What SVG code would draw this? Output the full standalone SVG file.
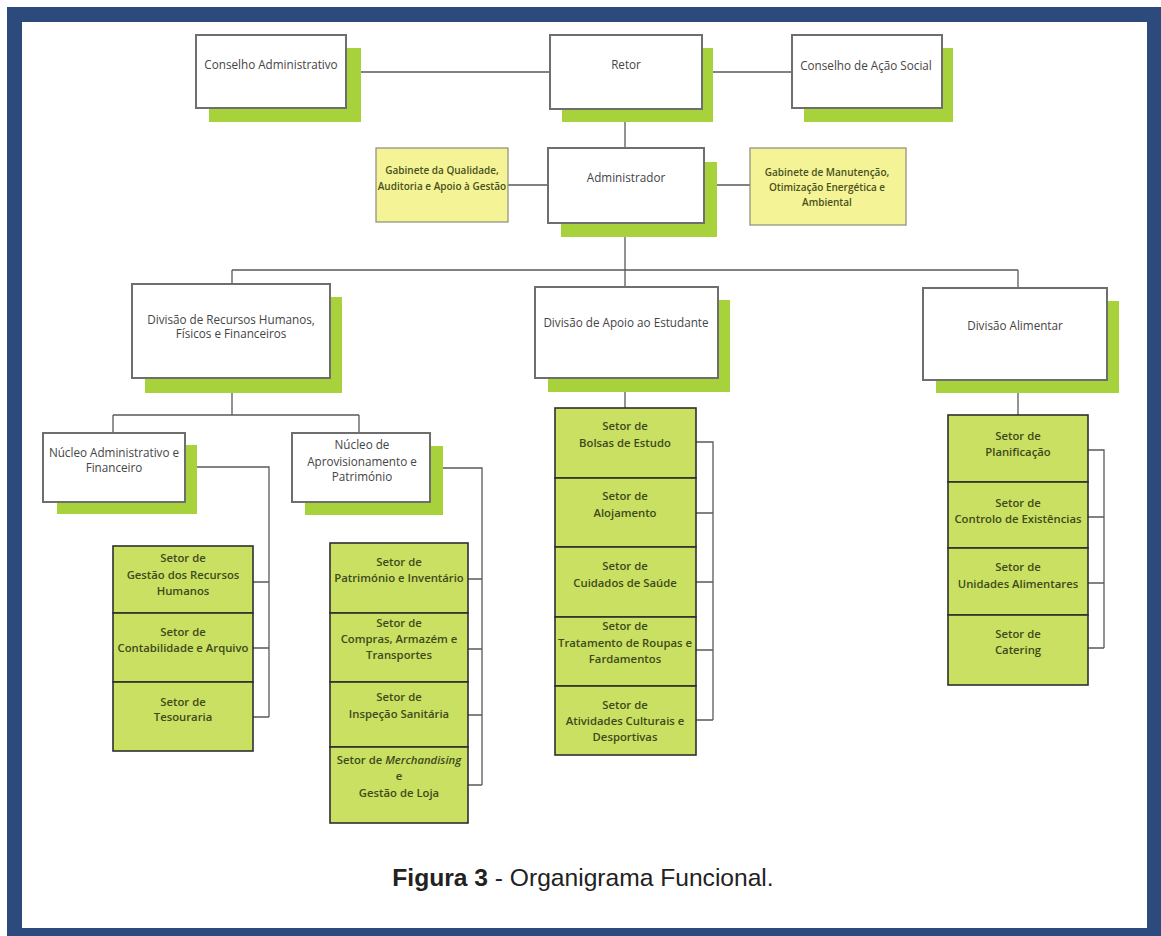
<svg xmlns="http://www.w3.org/2000/svg" width="1161" height="936" viewBox="0 0 1161 936">
<style>
.frame{fill:#2c4a7c}
.paper{fill:#ffffff}
.sh{fill:#a8d23c}
.bx{fill:#ffffff;stroke:#6e6e6e;stroke-width:2}
.yl{fill:#f4f496;stroke:#8a8a7a;stroke-width:1.2}
.st{fill:#c9e062;stroke:#2f2f2f;stroke-width:1.6}
.ln{fill:none;stroke:#5a5a5a;stroke-width:1.3}
text{font-family:"Open Sans","Noto Sans","DejaVu Sans",sans-serif;font-size:11.3px;text-anchor:middle}
.tw{fill:#454545;font-size:11.7px}
.tg{fill:#3e4a1c;font-weight:600}
.ty{fill:#4a5020;font-weight:600;font-size:10px}
.cap{font-family:"Liberation Sans",Arial,sans-serif;font-size:24.6px;fill:#222}
</style>
<rect class="frame" x="7" y="7" width="1154" height="929"/>
<rect class="paper" x="22" y="22" width="1125" height="906"/>

<g id="connectors">
<path class="ln" d="M346 72H550M702 72H792M625 109V148M508 185H548M704 185H750"/>
<path class="ln" d="M625 223V287M232 270H1018M232 270V284M1018 270V288"/>
<path class="ln" d="M232 378V415M113 415H359M113 415V433M359 415V433"/>
<path class="ln" d="M625 378V408M1018 380V415"/>
<path class="ln" d="M185 467H269V717M253 582H269M253 648H269M253 717H269"/>
<path class="ln" d="M430 468H482V785M468 579H482M468 649H482M468 715H482M468 785H482"/>
<path class="ln" d="M696 442H713V720M696 513H713M696 582H713M696 650H713M696 720H713"/>
<path class="ln" d="M1088 450H1104V648M1088 517H1104M1088 583H1104M1088 648H1104"/>
</g>

<g id="conselho-administrativo">
<rect class="sh" x="209" y="48" width="152" height="74"/>
<rect class="bx" x="196" y="35" width="150" height="73"/>
<text class="tw" x="271" y="69">Conselho Administrativo</text>
</g>
<g id="retor">
<rect class="sh" x="562" y="48" width="151" height="74"/>
<rect class="bx" x="550" y="35" width="152" height="74"/>
<text class="tw" x="626" y="69">Retor</text>
</g>
<g id="conselho-acao-social">
<rect class="sh" x="804" y="48" width="149" height="74"/>
<rect class="bx" x="792" y="35" width="150" height="73"/>
<text class="tw" x="866" y="70">Conselho de Ação Social</text>
</g>
<g id="gabinete-qualidade">
<rect class="yl" x="376" y="148" width="132" height="74"/>
<text class="ty" x="442" y="174">Gabinete da Qualidade,</text>
<text class="ty" x="442" y="190">Auditoria e Apoio à Gestão</text>
</g>
<g id="administrador">
<rect class="sh" x="561" y="162" width="156" height="75"/>
<rect class="bx" x="548" y="148" width="156" height="75"/>
<text class="tw" x="626" y="182">Administrador</text>
</g>
<g id="gabinete-manutencao">
<rect class="yl" x="750" y="148" width="156" height="77"/>
<text class="ty" x="827" y="176">Gabinete de Manutenção,</text>
<text class="ty" x="827" y="191">Otimização Energética e</text>
<text class="ty" x="827" y="206">Ambiental</text>
</g>

<g id="divisao-rh">
<rect class="sh" x="145" y="297" width="197" height="96"/>
<rect class="bx" x="132" y="284" width="198" height="94"/>
<text class="tw" x="231" y="324">Divisão de Recursos Humanos,</text>
<text class="tw" x="231" y="338">Físicos e Financeiros</text>
</g>
<g id="divisao-apoio">
<rect class="sh" x="548" y="300" width="182" height="92"/>
<rect class="bx" x="535" y="287" width="183" height="91"/>
<text class="tw" x="626" y="327">Divisão de Apoio ao Estudante</text>
</g>
<g id="divisao-alimentar">
<rect class="sh" x="936" y="301" width="183" height="92"/>
<rect class="bx" x="923" y="288" width="184" height="92"/>
<text class="tw" x="1015" y="330">Divisão Alimentar</text>
</g>

<g id="nucleo-adm">
<rect class="sh" x="57" y="445" width="140" height="69"/>
<rect class="bx" x="43" y="433" width="142" height="69"/>
<text class="tw" x="114" y="457">Núcleo Administrativo e</text>
<text class="tw" x="114" y="472">Financeiro</text>
</g>
<g id="nucleo-aprov">
<rect class="sh" x="305" y="446" width="138" height="69"/>
<rect class="bx" x="292" y="433" width="138" height="69"/>
<text class="tw" x="362" y="449">Núcleo de</text>
<text class="tw" x="362" y="466">Aprovisionamento e</text>
<text class="tw" x="362" y="481">Património</text>
</g>

<g id="setor-gestao-rh">
<rect class="st" x="113" y="546" width="140" height="67"/>
<text class="tg" x="183" y="562">Setor de</text>
<text class="tg" x="183" y="579">Gestão dos Recursos</text>
<text class="tg" x="183" y="595">Humanos</text>
</g>
<g id="setor-contabilidade">
<rect class="st" x="113" y="613" width="140" height="69"/>
<text class="tg" x="183" y="636">Setor de</text>
<text class="tg" x="183" y="652">Contabilidade e Arquivo</text>
</g>
<g id="setor-tesouraria">
<rect class="st" x="113" y="682" width="140" height="69"/>
<text class="tg" x="183" y="706">Setor de</text>
<text class="tg" x="183" y="721">Tesouraria</text>
</g>

<g id="setor-patrimonio">
<rect class="st" x="330" y="543" width="138" height="70"/>
<text class="tg" x="399" y="566">Setor de</text>
<text class="tg" x="399" y="582">Património e Inventário</text>
</g>
<g id="setor-compras">
<rect class="st" x="330" y="613" width="138" height="69"/>
<text class="tg" x="399" y="627">Setor de</text>
<text class="tg" x="399" y="643">Compras, Armazém e</text>
<text class="tg" x="399" y="659">Transportes</text>
</g>
<g id="setor-inspecao">
<rect class="st" x="330" y="682" width="138" height="65"/>
<text class="tg" x="399" y="701">Setor de</text>
<text class="tg" x="399" y="718">Inspeção Sanitária</text>
</g>
<g id="setor-merchandising">
<rect class="st" x="330" y="747" width="138" height="76"/>
<text class="tg" x="399" y="764">Setor de <tspan font-style="italic">Merchandising</tspan></text>
<text class="tg" x="399" y="780">e</text>
<text class="tg" x="399" y="797">Gestão de Loja</text>
</g>

<g id="setor-bolsas">
<rect class="st" x="555" y="408" width="141" height="70"/>
<text class="tg" x="625" y="430">Setor de</text>
<text class="tg" x="625" y="447">Bolsas de Estudo</text>
</g>
<g id="setor-alojamento">
<rect class="st" x="555" y="478" width="141" height="69"/>
<text class="tg" x="625" y="500">Setor de</text>
<text class="tg" x="625" y="517">Alojamento</text>
</g>
<g id="setor-saude">
<rect class="st" x="555" y="547" width="141" height="70"/>
<text class="tg" x="625" y="570">Setor de</text>
<text class="tg" x="625" y="587">Cuidados de Saúde</text>
</g>
<g id="setor-roupas">
<rect class="st" x="555" y="617" width="141" height="69"/>
<text class="tg" x="625" y="630">Setor de</text>
<text class="tg" x="625" y="647">Tratamento de Roupas e</text>
<text class="tg" x="625" y="663">Fardamentos</text>
</g>
<g id="setor-atividades">
<rect class="st" x="555" y="686" width="141" height="69"/>
<text class="tg" x="625" y="709">Setor de</text>
<text class="tg" x="625" y="725">Atividades Culturais e</text>
<text class="tg" x="625" y="741">Desportivas</text>
</g>

<g id="setor-planificacao">
<rect class="st" x="948" y="415" width="140" height="67"/>
<text class="tg" x="1018" y="440">Setor de</text>
<text class="tg" x="1018" y="456">Planificação</text>
</g>
<g id="setor-controlo">
<rect class="st" x="948" y="482" width="140" height="66"/>
<text class="tg" x="1018" y="507">Setor de</text>
<text class="tg" x="1018" y="523">Controlo de Existências</text>
</g>
<g id="setor-unidades">
<rect class="st" x="948" y="548" width="140" height="67"/>
<text class="tg" x="1018" y="571">Setor de</text>
<text class="tg" x="1018" y="588">Unidades Alimentares</text>
</g>
<g id="setor-catering">
<rect class="st" x="948" y="615" width="140" height="70"/>
<text class="tg" x="1018" y="638">Setor de</text>
<text class="tg" x="1018" y="654">Catering</text>
</g>

<text class="cap" x="583" y="886"><tspan font-weight="bold">Figura 3</tspan> - Organigrama Funcional.</text>
</svg>
